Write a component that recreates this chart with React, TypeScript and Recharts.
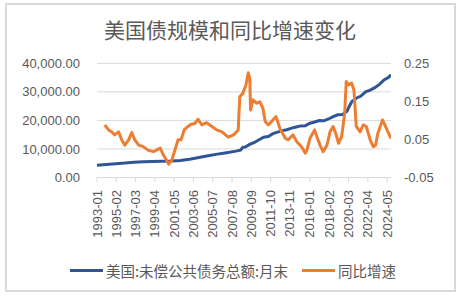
import React from 'react';
import {
  LineChart,
  Line,
  XAxis,
  YAxis,
  CartesianGrid,
} from 'recharts';

// month index from 1993-01 (= 0)
const tickMonths = [0, 25, 50, 75, 100, 125, 150, 175, 200, 225, 250, 276, 301, 326, 351, 376];
const tickLabels = [
  '1993-01', '1995-02', '1997-03', '1999-04', '2001-05', '2003-06', '2005-07', '2007-08',
  '2009-09', '2011-10', '2013-11', '2016-01', '2018-02', '2020-03', '2022-04', '2024-05',
];

// 美国:未偿公共债务总额:月末 (十亿美元)
const debtMonths = [
  0, 12, 24, 36, 48, 60, 72, 84, 96, 108, 120, 132, 144, 156, 168, 180, 186, 189, 192, 198,
  204, 210, 216, 222, 228, 234, 240, 246, 252, 258, 264, 270, 276, 282, 288, 294, 300, 306,
  312, 318, 324, 327, 330, 336, 342, 348, 354, 360, 366, 372, 378, 381,
];
const debtValues = [
  4300, 4550, 4850, 5050, 5350, 5500, 5620, 5720, 5760, 5980, 6420, 7020, 7630, 8190, 8680,
  9230, 9590, 10570, 10630, 11600, 12280, 13240, 14130, 14340, 15350, 15900, 16430, 16740,
  17290, 17690, 18080, 18150, 19010, 19430, 19940, 19840, 20490, 21310, 21980, 22020, 23220,
  24970, 26530, 27780, 28530, 30010, 30590, 31460, 32610, 34190, 35090, 35950,
];

// 同比增速
const yoyMonths = [
  10, 15, 19, 23, 28, 32, 36, 41, 45, 49, 54, 60, 66, 73, 77, 82, 86, 90, 93, 97, 101, 105,
  109, 113, 118, 122, 127, 131, 136, 142, 149, 155, 162, 170, 177, 183, 185, 189, 193, 196,
  198, 199, 202, 207, 211, 215, 218, 222, 228, 232, 237, 244, 248, 254, 259, 265, 270, 272,
  276, 282, 285, 289, 293, 298, 302, 306, 310, 313, 317, 321, 323, 326, 330, 333, 336, 341,
  345, 349, 354, 358, 361, 364, 370, 373, 377, 381,
];
const yoyValues = [
  0.088, 0.075, 0.07, 0.062, 0.07, 0.049, 0.035, 0.049, 0.068, 0.049, 0.035, 0.031, 0.022,
  0.018, 0.022, 0.027, 0.009, -0.004, -0.015, -0.004, 0.022, 0.049, 0.049, 0.075, 0.084,
  0.09, 0.092, 0.103, 0.088, 0.094, 0.084, 0.075, 0.07, 0.056, 0.062, 0.075, 0.162, 0.171,
  0.193, 0.225, 0.211, 0.127, 0.154, 0.145, 0.149, 0.132, 0.097, 0.088, 0.101, 0.11, 0.079,
  0.053, 0.049, 0.062, 0.044, 0.031, 0.014, 0.022, 0.053, 0.075, 0.057, 0.035, 0.018, 0.035,
  0.07, 0.084, 0.062, 0.04, 0.057, 0.119, 0.202, 0.193, 0.198, 0.18, 0.084, 0.07, 0.088,
  0.084, 0.049, 0.031, 0.035, 0.066, 0.101, 0.088, 0.07, 0.053,
];

const debtData = debtMonths.map((m, i) => ({ m, debt: debtValues[i] }));
const yoyData = yoyMonths.map((m, i) => ({ m, yoy: yoyValues[i] }));

const BLUE = '#2F5597';
const ORANGE = '#ED7D31';
const TEXT = '#595959';
const FONT = '"Liberation Sans", Arial, "Noto Sans CJK SC", sans-serif';

const XTick = ({ x, y, payload }: any) => {
  const idx = tickMonths.indexOf(payload.value);
  return (
    <text
      x={x}
      y={y}
      transform={`rotate(-90 ${x} ${y})`}
      textAnchor="end"
      dominantBaseline="central"
      fill={TEXT}
      fontSize={13}
      fontFamily={FONT}
    >
      {idx >= 0 ? tickLabels[idx] : ''}
    </text>
  );
};

const LegendItem = ({ color, label, left }: { color: string; label: string; left: number }) => (
  <div style={{ position: 'absolute', left, top: 260, height: 20, display: 'flex', alignItems: 'center' }}>
    <div style={{ width: 33, height: 3, background: color, marginRight: 3 }} />
    <span style={{ fontSize: 14.5, color: TEXT, fontFamily: '"Noto Sans CJK SC", sans-serif', whiteSpace: 'nowrap' }}>
      {label}
    </span>
  </div>
);

const App = () => {
  return (
    <div style={{ position: 'absolute', left: 0, top: 0, width: 460, height: 296, background: '#fff', overflow: 'hidden' }}>
      <div
        style={{
          position: 'absolute',
          left: 5,
          top: 3,
          width: 447,
          height: 285,
          border: '2px solid #dadada',
        }}
      />
      <div
        style={{
          position: 'absolute',
          left: 0,
          top: 18,
          width: 460,
          textAlign: 'center',
          fontSize: 21,
          lineHeight: '22px',
          color: TEXT,
          fontFamily: '"Noto Sans CJK SC", sans-serif',
        }}
      >
        美国债规模和同比增速变化
      </div>
      <div style={{ position: 'absolute', left: 0, top: 0 }}>
        <LineChart width={460} height={296} margin={{ top: 63.3, right: 19, bottom: 48.5, left: 37 }}>
          <CartesianGrid yAxisId="left" horizontal vertical={false} stroke="#d9d9d9" />
          <XAxis
            type="number"
            dataKey="m"
            domain={[0, 381]}
            ticks={tickMonths}
            interval={0}
            height={70}
            tick={<XTick />}
            tickSize={5}
            tickMargin={7.5}
            axisLine={{ stroke: '#d9d9d9' }}
            tickLine={{ stroke: '#d9d9d9' }}
            allowDataOverflow
          />
          <YAxis
            yAxisId="left"
            width={60}
            domain={[0, 40000]}
            ticks={[0, 10000, 20000, 30000, 40000]}
            tickFormatter={(v: number) => v.toLocaleString('en-US', { minimumFractionDigits: 2, maximumFractionDigits: 2 })}
            axisLine={false}
            tickLine={false}
            tickMargin={11}
            tick={{ fill: TEXT, fontSize: 13, fontFamily: FONT }}
          />
          <YAxis
            yAxisId="right"
            orientation="right"
            width={50}
            domain={[-0.05, 0.25]}
            ticks={[-0.05, 0, 0.05, 0.1, 0.15, 0.2, 0.25]}
            tickFormatter={(v: number) => String(Number(v.toFixed(2)))}
            axisLine={false}
            tickLine={false}
            tickMargin={7}
            tick={{ fill: TEXT, fontSize: 13, fontFamily: FONT, textAnchor: 'start' }}
          />
          <Line
            yAxisId="left"
            data={debtData}
            dataKey="debt"
            stroke={BLUE}
            strokeWidth={3}
            dot={false}
            isAnimationActive={false}
          />
          <Line
            yAxisId="right"
            data={yoyData}
            dataKey="yoy"
            stroke={ORANGE}
            strokeWidth={3}
            strokeLinejoin="round"
            dot={false}
            isAnimationActive={false}
          />
        </LineChart>
      </div>
      <LegendItem color={BLUE} label="美国:未偿公共债务总额:月末" left={70} />
      <LegendItem color={ORANGE} label="同比增速" left={302} />
    </div>
  );
};

export default App;
